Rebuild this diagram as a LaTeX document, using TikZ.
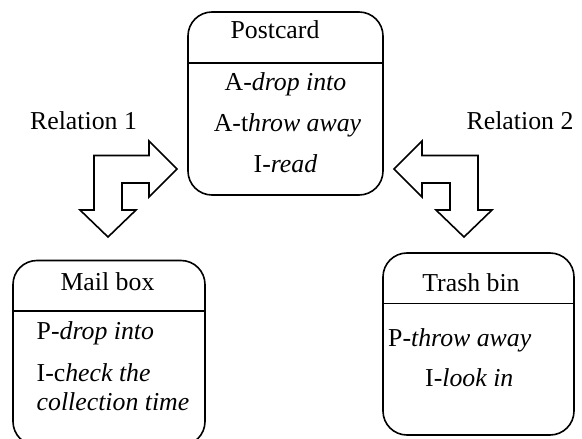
\documentclass[tikz,border=0pt]{standalone}
\usepackage{fontspec}
\setmainfont{Liberation Serif}
\begin{document}
\begin{tikzpicture}[x=1pt,y=-1pt,
  card/.style={draw, line width=1.6pt, rounded corners=24pt, inner sep=0pt},
  divider/.style={line width=1.6pt},
  label/.style={inner sep=0pt, anchor=base, font=\fontsize{25.8}{30}\selectfont},
  leftlabel/.style={label, anchor=base west},
  bigarrow/.style={draw, line width=1.6pt, line join=miter, fill=white}
]
\useasboundingbox (0,0) rectangle (582,439);

% object cards
\node[card, minimum width=195pt, minimum height=183pt] (post) at (285.5,103.5) {};
\node[card, minimum width=192pt, minimum height=185pt] (mail) at (109,353) {};
\node[card, minimum width=191pt, minimum height=182pt] (trash) at (478.5,344) {};

% header separators
\coordinate (pdl) at (188,62.7);  \coordinate (pdr) at (383,62.7);
\coordinate (mdl) at (13,310.7);  \coordinate (mdr) at (205,310.7);
\coordinate (tdl) at (383,303.3); \coordinate (tdr) at (574,303.3);
\draw[divider] (pdl) -- (pdr);
\draw[divider] (mdl) -- (mdr);
\draw[divider] (tdl) -- (tdr);

% Postcard
\node[label] (ptitle) at (275,38.3) {Postcard};
\node[label] (p1) at (285.5,90.5) {A-\textit{drop into}};
\node[label] (p2) at (287.5,131.5) {A-t\textit{hrow away}};
\node[label] (p3) at (285.5,172.5) {I-\textit{read}};

% Mail box
\node[label] (mtitle) at (107.5,290) {Mail box};
\node[leftlabel] (m1) at (36.5,339) {P-\textit{drop into}};
\node[leftlabel] (m2) at (36.5,381) {I-c\textit{heck the}};
\node[leftlabel] (m3) at (36.5,410) {\textit{collection time}};

% Trash bin
\node[label] (ttitle) at (471,291.5) {Trash bin};
\node[leftlabel] (t1) at (388,346) {P-\textit{throw away}};
\node[leftlabel] (t2) at (425,386) {I-\textit{look in}};

% relation labels
\node[label] (r1) at (83.5,129.5) {Relation 1};
\node[label] (r2) at (520,129.5) {Relation 2};

% relation 1: bent double arrow
\draw[bigarrow] (94,155.5) -- (149,155.5) -- (149,141) -- (177,169) -- (149,197)
  -- (149,183) -- (122,183) -- (122,210) -- (136,210) -- (108,237) -- (80,210)
  -- (94,210) -- cycle;

% relation 2: bent double arrow
\draw[bigarrow] (394,169) -- (422,141) -- (422,155.5) -- (478,155.5) -- (478,210)
  -- (492,210) -- (464,237) -- (436,210) -- (450,210) -- (450,183) -- (422,183)
  -- (422,197) -- cycle;
\end{tikzpicture}
\end{document}
